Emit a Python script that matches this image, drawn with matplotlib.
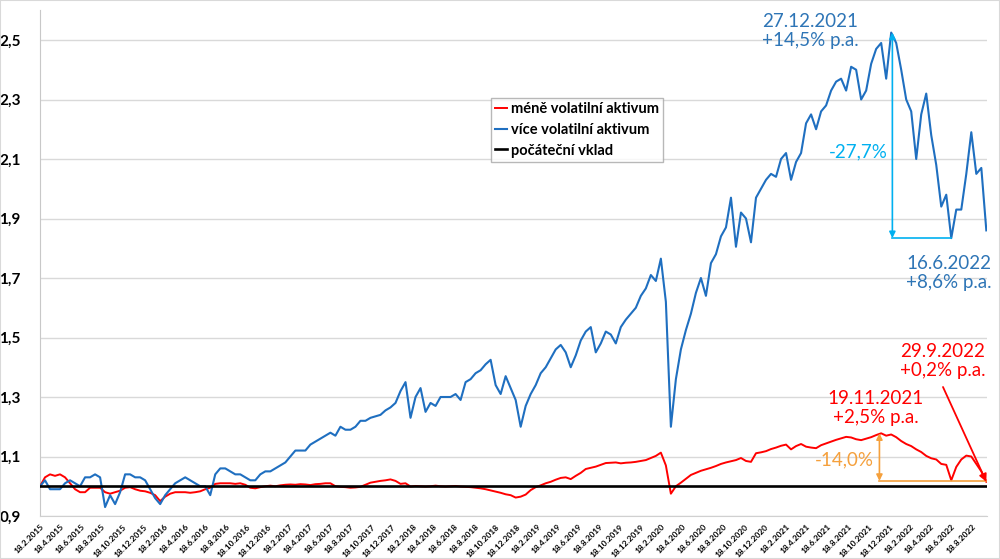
import matplotlib
matplotlib.use('Agg')
import matplotlib.pyplot as plt
import matplotlib.dates as mdates
from matplotlib.patches import Rectangle
import pandas as pd

# ---------------- data ----------------
start_date = '2015-02-18'
end_date = '2022-09-29'

more_volatile = [
    1.00, 1.02, 0.99, 0.99, 0.99, 1.01, 1.02, 1.01, 1.00, 1.03,
    1.03, 1.04, 1.03, 0.93, 0.97, 0.94, 0.98, 1.04, 1.04, 1.03,
    1.03, 1.02, 0.99, 0.96, 0.94, 0.97, 0.99, 1.01, 1.02, 1.03,
    1.02, 1.01, 1.00, 1.00, 0.97, 1.04, 1.06, 1.06, 1.05, 1.04,
    1.04, 1.03, 1.02, 1.02, 1.04, 1.05, 1.05, 1.06, 1.07, 1.08,
    1.10, 1.12, 1.12, 1.12, 1.14, 1.15, 1.16, 1.17, 1.18, 1.17,
    1.20, 1.19, 1.19, 1.20, 1.22, 1.22, 1.23, 1.235, 1.24, 1.255,
    1.265, 1.28, 1.32, 1.35, 1.23, 1.30, 1.33, 1.25, 1.28, 1.27,
    1.30, 1.30, 1.30, 1.31, 1.29, 1.35, 1.36, 1.38, 1.39, 1.41,
    1.425, 1.34, 1.31, 1.37, 1.33, 1.29, 1.20, 1.27, 1.31, 1.34,
    1.38, 1.40, 1.43, 1.46, 1.475, 1.45, 1.40, 1.44, 1.49, 1.52,
    1.535, 1.45, 1.48, 1.52, 1.51, 1.48, 1.535, 1.56, 1.58, 1.60,
    1.64, 1.665, 1.71, 1.69, 1.765, 1.62, 1.20, 1.36, 1.46, 1.525,
    1.58, 1.65, 1.70, 1.64, 1.75, 1.78, 1.84, 1.87, 1.97, 1.805,
    1.92, 1.90, 1.82, 1.97, 2.00, 2.03, 2.05, 2.04, 2.10, 2.12,
    2.03, 2.09, 2.12, 2.22, 2.25, 2.20, 2.26, 2.28, 2.33, 2.36,
    2.37, 2.33, 2.41, 2.40, 2.30, 2.33, 2.42, 2.47, 2.49, 2.37,
    2.525, 2.49, 2.40, 2.30, 2.26, 2.10, 2.25, 2.32, 2.18, 2.08,
    1.94, 1.98, 1.834, 1.93, 1.93, 2.05, 2.19, 2.05, 2.07, 1.86,
]

less_volatile = [
    1.00, 1.03, 1.04, 1.035, 1.04, 1.03, 1.01, 0.99, 0.98, 0.98,
    0.995, 0.995, 0.995, 0.98, 0.975, 0.98, 0.985, 0.995, 0.997, 0.99,
    0.985, 0.983, 0.978, 0.97, 0.95, 0.965, 0.975, 0.98, 0.98, 0.98,
    0.978, 0.98, 0.983, 0.99, 0.995, 1.008, 1.01, 1.01, 1.01, 1.008,
    1.01, 1.005, 0.995, 0.993, 0.997, 1.00, 1.002, 1.00, 1.003, 1.005,
    1.006, 1.005, 1.007, 1.006, 1.004, 1.007, 1.008, 1.01, 1.01, 1.00,
    0.998, 0.997, 0.995, 0.996, 0.998, 1.005, 1.012, 1.015, 1.018, 1.02,
    1.023, 1.018, 1.008, 1.01, 0.999, 1.001, 1.00, 0.999, 1.00, 1.002,
    1.00, 0.999, 1.00, 1.001, 0.999, 0.998, 0.997, 0.995, 0.993, 0.99,
    0.986, 0.982, 0.978, 0.973, 0.97, 0.962, 0.965, 0.972, 0.987, 0.997,
    1.003, 1.01, 1.015, 1.022, 1.028, 1.03, 1.024, 1.035, 1.045, 1.058,
    1.062, 1.066, 1.072, 1.078, 1.079, 1.08, 1.077, 1.079, 1.08, 1.082,
    1.085, 1.088, 1.095, 1.102, 1.113, 1.07, 0.975, 1.00, 1.012, 1.025,
    1.038, 1.045, 1.052, 1.057, 1.062, 1.068, 1.075, 1.08, 1.084, 1.088,
    1.095, 1.085, 1.082, 1.111, 1.114, 1.118, 1.125, 1.13, 1.136, 1.14,
    1.124, 1.135, 1.142, 1.133, 1.13, 1.128, 1.138, 1.144, 1.15, 1.156,
    1.161, 1.166, 1.164, 1.158, 1.155, 1.16, 1.165, 1.172, 1.178, 1.17,
    1.174, 1.165, 1.152, 1.142, 1.135, 1.124, 1.115, 1.102, 1.094, 1.09,
    1.075, 1.072, 1.02, 1.065, 1.09, 1.103, 1.10, 1.075, 1.05, 1.015,
]

initial_deposit = [1.0, 1.0]

series_labels = ['méně volatilní aktivum', 'více volatilní aktivum', 'počáteční vklad']
y_ticks = [0.9, 1.1, 1.3, 1.5, 1.7, 1.9, 2.1, 2.3, 2.5]

blue_peak_date, blue_peak_value = '2021-12-27', 2.525
blue_low_date, blue_low_value = '2022-06-16', 1.834
red_peak_date, red_peak_value = '2021-11-19', 1.178
red_low_value = 1.018
red_end_value = 1.015

# ---------------- style ----------------
BLUE = '#1f6fc0'
BLUE_TXT = '#2e75b6'
RED = '#ff0000'
CYAN = '#00b0f0'
ORANGE = '#f5a03c'
GRID = '#d9d9d9'

plt.rcParams['font.family'] = ['Lato', 'DejaVu Sans']

fig = plt.figure(figsize=(10, 5.59), dpi=100)
fig.patch.set_facecolor('white')
ax = fig.add_axes([0.040, 1 - 516 / 559, 0.947, 505.75 / 559])

dates = pd.date_range(start_date, end_date, periods=len(more_volatile))
d0, d1 = pd.Timestamp(start_date), pd.Timestamp(end_date)

ax.plot(dates, less_volatile, color=RED, lw=1.4, label=series_labels[0], zorder=3)
ax.plot(dates, more_volatile, color=BLUE, lw=1.5, label=series_labels[1], zorder=3)
ax.plot([d0, d1], initial_deposit, color='black', lw=1.9, label=series_labels[2], zorder=4)

ax.set_xlim(d0, d1 + pd.Timedelta(days=2))
ax.set_ylim(0.9, 2.6)

ax.set_yticks(y_ticks)
ax.set_yticklabels([f'{v:.1f}'.replace('.', ',') for v in y_ticks],
                   fontsize=11, fontweight='bold')
ax.tick_params(axis='y', length=0, pad=14)

tick_dates = pd.date_range(start_date, '2022-08-18', freq=pd.DateOffset(months=2))
ax.set_xticks(tick_dates)
ax.set_xticklabels([f'{d.day}.{d.month}.{d.year}' for d in tick_dates],
                   rotation=45, ha='right', va='top', rotation_mode='anchor',
                   fontsize=6, fontweight='bold')
ax.tick_params(axis='x', length=0, pad=5)

ax.grid(axis='y', color=GRID, lw=1.0)
ax.set_axisbelow(True)
for s in ['top', 'right']:
    ax.spines[s].set_visible(False)
ax.spines['left'].set_color('#c8c8c8')
ax.spines['bottom'].set_color('#d0d0d0')

leg = ax.legend(loc='upper left', bbox_to_anchor=((491 - 40) / 947, (516 - 98) / 505.75),
                borderaxespad=0, frameon=True, fancybox=False, handlelength=0.8,
                handletextpad=0.25, borderpad=0.3, labelspacing=0.45,
                prop={'weight': 'bold', 'size': 10.5})
leg.get_frame().set_edgecolor('#a6a6a6')
leg.get_frame().set_linewidth(1.0)

# ---------------- annotations ----------------
def fx(px):
    return px / 1000

def fy(py):
    return 1 - py / 559

fs = 13.5
fig.text(fx(810), fy(31), '27.12.2021\n+14,5% p.a.', color=BLUE_TXT, fontsize=fs,
         ha='center', va='center', linespacing=1.15)
fig.text(fx(949), fy(273), '16.6.2022\n+8,6% p.a.', color=BLUE_TXT, fontsize=fs,
         ha='center', va='center', linespacing=1.15)
fig.text(fx(858), fy(152), '-27,7%', color=CYAN, fontsize=fs, ha='center', va='center')
fig.text(fx(943), fy(361), '29.9.2022\n+0,2% p.a.', color=RED, fontsize=fs,
         ha='center', va='center', linespacing=1.15)
fig.text(fx(876), fy(408), '19.11.2021\n+2,5% p.a.', color=RED, fontsize=fs,
         ha='center', va='center', linespacing=1.15)
fig.text(fx(844), fy(460), '-14,0%', color=ORANGE, fontsize=fs, ha='center', va='center')

bp = pd.Timestamp(blue_peak_date)
bl = pd.Timestamp(blue_low_date)
rp = pd.Timestamp(red_peak_date)

ax.annotate('', xy=(bp, blue_peak_value), xytext=(bp, blue_low_value),
            arrowprops=dict(arrowstyle='<|-|>', color=CYAN, lw=1.2,
                            mutation_scale=9, shrinkA=0, shrinkB=0), zorder=5)
ax.plot([bp, bl], [blue_low_value, blue_low_value], color=CYAN, lw=1.2, zorder=5)

ax.annotate('', xy=(rp, red_peak_value), xytext=(rp, red_low_value),
            arrowprops=dict(arrowstyle='<|-|>', color=ORANGE, lw=1.2,
                            mutation_scale=9, shrinkA=0, shrinkB=0), zorder=5)
ax.plot([rp, d1], [red_low_value, red_low_value], color=ORANGE, lw=1.2, zorder=5)

ax.annotate('', xy=(d1, red_end_value), xycoords='data',
            xytext=(943, 559 - 387), textcoords='figure pixels',
            arrowprops=dict(arrowstyle='-|>', color=RED, lw=1.3,
                            mutation_scale=11, shrinkA=0, shrinkB=0), zorder=6)

fig.patches.append(Rectangle((0, 0), 1, 1, transform=fig.transFigure, fill=False,
                             edgecolor='#d9d9d9', lw=1.5))

fig.savefig('out.png', dpi=100, facecolor='white')
